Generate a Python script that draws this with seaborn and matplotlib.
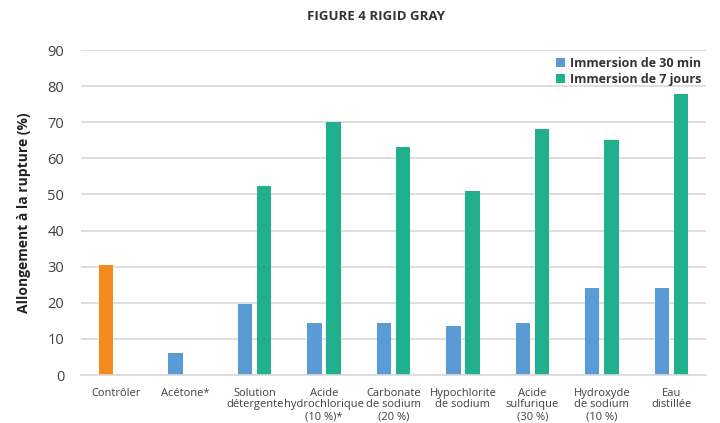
import numpy as np
import pandas as pd
import matplotlib
matplotlib.use("Agg")
import matplotlib.pyplot as plt
import seaborn as sns

categories = [
    "Contrôler", "Acétone*", "Solution\ndétergente", "Acide\nhydrochlorique\n(10 %)*",
    "Carbonate\nde sodium\n(20 %)", "Hypochlorite\nde sodium", "Acide\nsulfurique\n(30 %)",
    "Hydroxyde\nde sodium\n(10 %)", "Eau\ndistillée",
]
series_names = ["Immersion de 30 min", "Immersion de 7 jours"]
# The control value sits in the first slot and is drawn in its own colour
values_30min = [30.5, 6.2, 19.8, 14.5, 14.5, 13.7, 14.5, 24.2, 24.2]
values_7jours = [np.nan, np.nan, 52.2, 70.0, 63.2, 51.0, 68.2, 65.2, 77.7]
yticks = [0, 10, 20, 30, 40, 50, 60, 70, 80, 90]

blue = "#5B9BD5"
green = "#21B08E"
orange = "#F58A1F"
grid_col = "#D9D9D9"
text_col = "#404040"

sns.set_theme(style="white")
plt.rcParams["font.family"] = ["Open Sans", "DejaVu Sans"]

df = pd.DataFrame({
    "cat": categories * 2,
    "serie": [series_names[0]] * len(categories) + [series_names[1]] * len(categories),
    "val": values_30min + values_7jours,
})

fig = plt.figure(figsize=(7.2, 4.23), dpi=100)
ax = fig.add_axes([81 / 720, 48 / 423, 625 / 720, 325 / 423])

sns.barplot(data=df, x="cat", y="val", hue="serie", order=categories,
            hue_order=series_names, palette=[blue, green], width=0.55, gap=0.25,
            errorbar=None, saturation=1, linewidth=0, ax=ax)

# control bar in orange
ax.containers[0][0].set_facecolor(orange)

ax.set_ylim(0, 90)
ax.set_xlim(-0.5, len(categories) - 0.5)
ax.set_yticks(yticks)
ax.yaxis.grid(True, color=grid_col, linewidth=1.2)
ax.set_axisbelow(True)
for s in ["top", "right", "left"]:
    ax.spines[s].set_visible(False)
ax.spines["bottom"].set_color(grid_col)
ax.spines["bottom"].set_linewidth(1.2)

ax.tick_params(axis="y", length=0, pad=12, labelsize=10.5, labelcolor=text_col)
ax.tick_params(axis="x", length=0, pad=9, labelsize=8, labelcolor=text_col)
for lbl in ax.get_xticklabels():
    lbl.set_linespacing(1.1)
    lbl.set_verticalalignment("top")

ax.set_xlabel("")
ax.set_ylabel("Allongement à la rupture (%)", fontsize=10, fontweight="bold",
              color="#222222", labelpad=12)

fig.text(376 / 720, 1 - 17 / 423, "FIGURE 4 RIGID GRAY", ha="center", va="center",
         fontsize=9.5, fontweight="bold", color="#333333")

leg = ax.legend(loc="upper right", bbox_to_anchor=(1.0, 0.995), frameon=False,
                handlelength=0.7, handleheight=0.7, handletextpad=0.4,
                labelspacing=0.25, borderaxespad=0, prop={"weight": "bold", "size": 9})
for t in leg.get_texts():
    t.set_color("#333333")

fig.savefig("out.png", dpi=100)
